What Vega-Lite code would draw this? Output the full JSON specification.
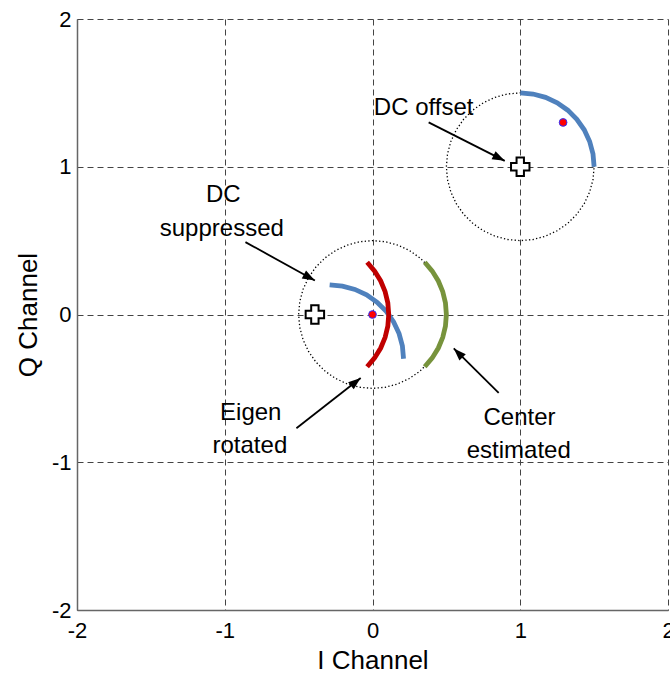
{
  "$schema": "https://vega.github.io/schema/vega-lite/v6.json",
  "autosize": "none",
  "padding": {"left": 77, "top": 19, "right": 2, "bottom": 65},
  "width": 591,
  "height": 591,
  "background": "white",
  "config": {
    "view": {"stroke": null},
    "font": "Liberation Sans",
    "axis": {
      "grid": true,
      "gridColor": "#444444",
      "gridDash": [6, 4],
      "gridWidth": 1,
      "gridOpacity": 1,
      "domainColor": "#666666",
      "domainWidth": 1.5,
      "ticks": false,
      "labelFlush": false,
      "labelOverlap": false,
      "labelFont": "Liberation Sans",
      "labelFontSize": 22,
      "labelColor": "#000000",
      "labelExpr": "'' + datum.value",
      "titleFont": "Liberation Sans",
      "titleFontWeight": "normal",
      "titleColor": "#000000",
      "titleFontSize": 26
    }
  },
  "datasets": {
    "circles": [
      {"c":"A","i":0,"x":0.5,"y":0},{"c":"A","i":1,"x":0.4924,"y":0.0868},{"c":"A","i":2,"x":0.4698,"y":0.171},{"c":"A","i":3,"x":0.433,"y":0.25},{"c":"A","i":4,"x":0.383,"y":0.3214},{"c":"A","i":5,"x":0.3214,"y":0.383},{"c":"A","i":6,"x":0.25,"y":0.433},{"c":"A","i":7,"x":0.171,"y":0.4698},{"c":"A","i":8,"x":0.0868,"y":0.4924},{"c":"A","i":9,"x":0,"y":0.5},
      {"c":"A","i":10,"x":-0.0868,"y":0.4924},{"c":"A","i":11,"x":-0.171,"y":0.4698},{"c":"A","i":12,"x":-0.25,"y":0.433},{"c":"A","i":13,"x":-0.3214,"y":0.383},{"c":"A","i":14,"x":-0.383,"y":0.3214},{"c":"A","i":15,"x":-0.433,"y":0.25},{"c":"A","i":16,"x":-0.4698,"y":0.171},{"c":"A","i":17,"x":-0.4924,"y":0.0868},{"c":"A","i":18,"x":-0.5,"y":0},
      {"c":"A","i":19,"x":-0.4924,"y":-0.0868},{"c":"A","i":20,"x":-0.4698,"y":-0.171},{"c":"A","i":21,"x":-0.433,"y":-0.25},{"c":"A","i":22,"x":-0.383,"y":-0.3214},{"c":"A","i":23,"x":-0.3214,"y":-0.383},{"c":"A","i":24,"x":-0.25,"y":-0.433},{"c":"A","i":25,"x":-0.171,"y":-0.4698},{"c":"A","i":26,"x":-0.0868,"y":-0.4924},{"c":"A","i":27,"x":0,"y":-0.5},
      {"c":"A","i":28,"x":0.0868,"y":-0.4924},{"c":"A","i":29,"x":0.171,"y":-0.4698},{"c":"A","i":30,"x":0.25,"y":-0.433},{"c":"A","i":31,"x":0.3214,"y":-0.383},{"c":"A","i":32,"x":0.383,"y":-0.3214},{"c":"A","i":33,"x":0.433,"y":-0.25},{"c":"A","i":34,"x":0.4698,"y":-0.171},{"c":"A","i":35,"x":0.4924,"y":-0.0868},{"c":"A","i":36,"x":0.5,"y":0},
      {"c":"B","i":0,"x":1.5,"y":1},{"c":"B","i":1,"x":1.4924,"y":1.0868},{"c":"B","i":2,"x":1.4698,"y":1.171},{"c":"B","i":3,"x":1.433,"y":1.25},{"c":"B","i":4,"x":1.383,"y":1.3214},{"c":"B","i":5,"x":1.3214,"y":1.383},{"c":"B","i":6,"x":1.25,"y":1.433},{"c":"B","i":7,"x":1.171,"y":1.4698},{"c":"B","i":8,"x":1.0868,"y":1.4924},{"c":"B","i":9,"x":1,"y":1.5},
      {"c":"B","i":10,"x":0.9132,"y":1.4924},{"c":"B","i":11,"x":0.829,"y":1.4698},{"c":"B","i":12,"x":0.75,"y":1.433},{"c":"B","i":13,"x":0.6786,"y":1.383},{"c":"B","i":14,"x":0.617,"y":1.3214},{"c":"B","i":15,"x":0.567,"y":1.25},{"c":"B","i":16,"x":0.5302,"y":1.171},{"c":"B","i":17,"x":0.5076,"y":1.0868},{"c":"B","i":18,"x":0.5,"y":1},
      {"c":"B","i":19,"x":0.5076,"y":0.9132},{"c":"B","i":20,"x":0.5302,"y":0.829},{"c":"B","i":21,"x":0.567,"y":0.75},{"c":"B","i":22,"x":0.617,"y":0.6786},{"c":"B","i":23,"x":0.6786,"y":0.617},{"c":"B","i":24,"x":0.75,"y":0.567},{"c":"B","i":25,"x":0.829,"y":0.5302},{"c":"B","i":26,"x":0.9132,"y":0.5076},{"c":"B","i":27,"x":1,"y":0.5},
      {"c":"B","i":28,"x":1.0868,"y":0.5076},{"c":"B","i":29,"x":1.171,"y":0.5302},{"c":"B","i":30,"x":1.25,"y":0.567},{"c":"B","i":31,"x":1.3214,"y":0.617},{"c":"B","i":32,"x":1.383,"y":0.6786},{"c":"B","i":33,"x":1.433,"y":0.75},{"c":"B","i":34,"x":1.4698,"y":0.829},{"c":"B","i":35,"x":1.4924,"y":0.9132},{"c":"B","i":36,"x":1.5,"y":1}
    ],
    "arcs": [
      {"a":"offset","i":0,"x":1.5,"y":1},{"a":"offset","i":1,"x":1.4924,"y":1.0868},{"a":"offset","i":2,"x":1.4698,"y":1.171},{"a":"offset","i":3,"x":1.433,"y":1.25},{"a":"offset","i":4,"x":1.383,"y":1.3214},{"a":"offset","i":5,"x":1.3214,"y":1.383},{"a":"offset","i":6,"x":1.25,"y":1.433},{"a":"offset","i":7,"x":1.171,"y":1.4698},{"a":"offset","i":8,"x":1.0868,"y":1.4924},{"a":"offset","i":9,"x":1,"y":1.5},
      {"a":"suppressed","i":0,"x":0.21,"y":-0.3},{"a":"suppressed","i":1,"x":0.2024,"y":-0.2132},{"a":"suppressed","i":2,"x":0.1798,"y":-0.129},{"a":"suppressed","i":3,"x":0.143,"y":-0.05},{"a":"suppressed","i":4,"x":0.093,"y":0.0214},{"a":"suppressed","i":5,"x":0.0314,"y":0.083},{"a":"suppressed","i":6,"x":-0.04,"y":0.133},{"a":"suppressed","i":7,"x":-0.119,"y":0.1698},{"a":"suppressed","i":8,"x":-0.2032,"y":0.1924},{"a":"suppressed","i":9,"x":-0.29,"y":0.2},
      {"a":"rotated","i":0,"x":-0.0364,"y":-0.3536},{"a":"rotated","i":1,"x":0.0145,"y":-0.2939},{"a":"rotated","i":2,"x":0.0555,"y":-0.227},{"a":"rotated","i":3,"x":0.0855,"y":-0.1545},{"a":"rotated","i":4,"x":0.1038,"y":-0.0782},{"a":"rotated","i":5,"x":0.11,"y":0},{"a":"rotated","i":6,"x":0.1038,"y":0.0782},{"a":"rotated","i":7,"x":0.0855,"y":0.1545},{"a":"rotated","i":8,"x":0.0555,"y":0.227},{"a":"rotated","i":9,"x":0.0145,"y":0.2939},{"a":"rotated","i":10,"x":-0.0364,"y":0.3536},
      {"a":"center","i":0,"x":0.3536,"y":-0.3536},{"a":"center","i":1,"x":0.4045,"y":-0.2939},{"a":"center","i":2,"x":0.4455,"y":-0.227},{"a":"center","i":3,"x":0.4755,"y":-0.1545},{"a":"center","i":4,"x":0.4938,"y":-0.0782},{"a":"center","i":5,"x":0.5,"y":0},{"a":"center","i":6,"x":0.4938,"y":0.0782},{"a":"center","i":7,"x":0.4755,"y":0.1545},{"a":"center","i":8,"x":0.4455,"y":0.227},{"a":"center","i":9,"x":0.4045,"y":0.2939},{"a":"center","i":10,"x":0.3536,"y":0.3536}
    ],
    "arrows": [
      {"label":"DC suppressed","x":-0.86,"y":0.49,"x2":-0.39,"y2":0.23},
      {"label":"DC offset","x":0.38,"y":1.3,"x2":0.895,"y2":1.04},
      {"label":"Eigen rotated","x":-0.515,"y":-0.77,"x2":-0.08,"y2":-0.43},
      {"label":"Center estimated","x":0.854,"y":-0.53,"x2":0.55,"y2":-0.23}
    ],
    "centers": [
      {"x":1,"y":1},{"x":-0.39,"y":0}
    ],
    "means": [
      {"x":1.29,"y":1.3},{"x":0,"y":0}
    ],
    "texts": [
      {"t":"DC offset","x":0.346,"y":1.4},
      {"t":"DC","x":-1.01,"y":0.81},
      {"t":"suppressed","x":-1.02,"y":0.578},
      {"t":"Eigen","x":-0.824,"y":-0.666},
      {"t":"rotated","x":-0.83,"y":-0.892},
      {"t":"Center","x":0.995,"y":-0.7},
      {"t":"estimated","x":0.99,"y":-0.926}
    ]
  },
  "layer": [
    {
      "data": {"name":"circles"},
      "mark": {"type":"line","color":"#000000","strokeWidth":1.3,"strokeDash":[1.3,2.3]},
      "encoding": {
        "x": {"field":"x","type":"quantitative","scale":{"domain":[-2,2],"nice":false,"zero":false},"axis":{"values":[-2,-1,0,1,2],"title":"I Channel","labelPadding":10,"titlePadding":6}},
        "y": {"field":"y","type":"quantitative","scale":{"domain":[-2,2],"nice":false,"zero":false},"axis":{"values":[-2,-1,0,1,2],"title":"Q Channel","labelPadding":6,"titlePadding":10}},
        "detail": {"field":"c"},
        "order": {"field":"i","type":"quantitative"}
      }
    },
    {
      "data": {"name":"arcs"},
      "mark": {"type":"line","strokeWidth":4.8,"strokeCap":"butt"},
      "encoding": {
        "x": {"field":"x","type":"quantitative"},
        "y": {"field":"y","type":"quantitative"},
        "color": {"field":"a","type":"nominal","scale":{"domain":["offset","suppressed","rotated","center"],"range":["#4F81BD","#4F81BD","#C00000","#77933C"]},"legend":null},
        "order": {"field":"i","type":"quantitative"}
      }
    },
    {
      "data": {"name":"arrows"},
      "mark": {"type":"rule","color":"#000000","strokeWidth":1.8},
      "encoding": {
        "x": {"field":"x","type":"quantitative"},
        "y": {"field":"y","type":"quantitative"},
        "x2": {"field":"x2"},
        "y2": {"field":"y2"}
      }
    },
    {
      "data": {"name":"arrows"},
      "transform": [{"filter":"datum.label == 'DC suppressed'"}],
      "mark": {"type":"point","shape":"M0,0L0.45,1.25L-0.45,1.25Z","filled":true,"color":"#000000","size":400,"opacity":1,"angle":118.5},
      "encoding": {"x":{"field":"x2","type":"quantitative"},"y":{"field":"y2","type":"quantitative"}}
    },
    {
      "data": {"name":"arrows"},
      "transform": [{"filter":"datum.label == 'DC offset'"}],
      "mark": {"type":"point","shape":"M0,0L0.45,1.25L-0.45,1.25Z","filled":true,"color":"#000000","size":400,"opacity":1,"angle":116.6},
      "encoding": {"x":{"field":"x2","type":"quantitative"},"y":{"field":"y2","type":"quantitative"}}
    },
    {
      "data": {"name":"arrows"},
      "transform": [{"filter":"datum.label == 'Eigen rotated'"}],
      "mark": {"type":"point","shape":"M0,0L0.45,1.25L-0.45,1.25Z","filled":true,"color":"#000000","size":400,"opacity":1,"angle":51.4},
      "encoding": {"x":{"field":"x2","type":"quantitative"},"y":{"field":"y2","type":"quantitative"}}
    },
    {
      "data": {"name":"arrows"},
      "transform": [{"filter":"datum.label == 'Center estimated'"}],
      "mark": {"type":"point","shape":"M0,0L0.45,1.25L-0.45,1.25Z","filled":true,"color":"#000000","size":400,"opacity":1,"angle":315},
      "encoding": {"x":{"field":"x2","type":"quantitative"},"y":{"field":"y2","type":"quantitative"}}
    },
    {
      "data": {"name":"centers"},
      "mark": {"type":"point","shape":"cross","filled":true,"fill":"#FFFFFF","stroke":"#000000","strokeWidth":2,"size":340,"opacity":1},
      "encoding": {"x":{"field":"x","type":"quantitative"},"y":{"field":"y","type":"quantitative"}}
    },
    {
      "data": {"name":"means"},
      "mark": {"type":"point","shape":"circle","filled":true,"fill":"#FF0000","stroke":"#3030FF","strokeWidth":1,"size":60,"opacity":1},
      "encoding": {"x":{"field":"x","type":"quantitative"},"y":{"field":"y","type":"quantitative"}}
    },
    {
      "data": {"name":"texts"},
      "mark": {"type":"text","font":"Liberation Sans","fontSize":24,"color":"#000000","align":"center","baseline":"middle"},
      "encoding": {"x":{"field":"x","type":"quantitative"},"y":{"field":"y","type":"quantitative"},"text":{"field":"t"}}
    }
  ]
}
